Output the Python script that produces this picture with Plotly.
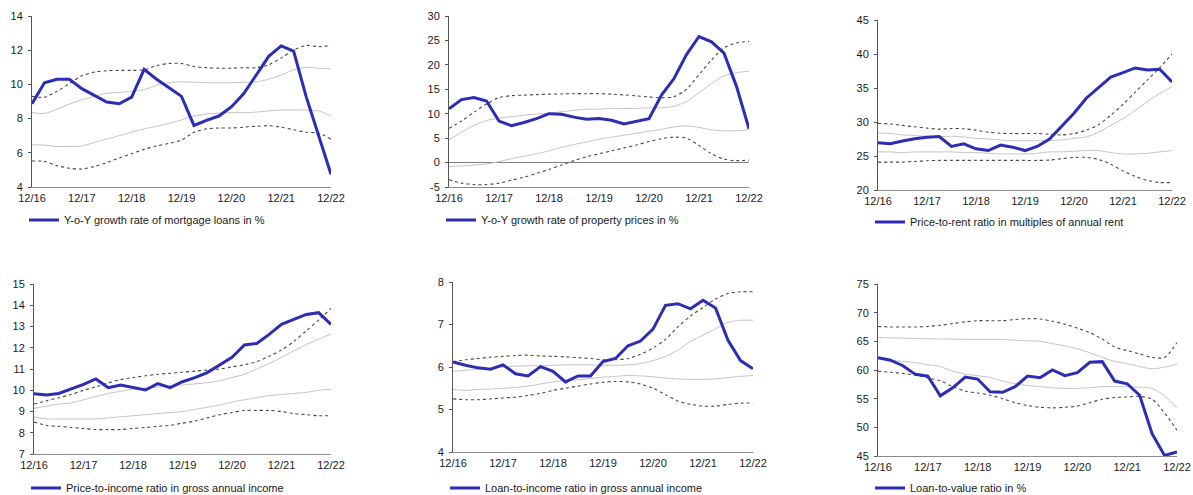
import plotly.graph_objects as go

# Quarterly observations, Dec 2016 .. Dec 2022 (25 quarters)
quarters = list(range(25))
tick_pos = [0, 4, 8, 12, 16, 20, 24]
tick_text = ["12/16", "12/17", "12/18", "12/19", "12/20", "12/21", "12/22"]

# --- Y-o-Y growth rate of mortgage loans in % ---
mort_ticks = [4, 6, 8, 10, 12, 14]
mort_val = [8.87, 10.1, 10.3, 10.3, 9.75, 9.36, 8.97, 8.87, 9.26, 10.88, 10.3, 9.8,
            9.3, 7.6, 7.9, 8.15, 8.68, 9.46, 10.53, 11.64, 12.25, 11.95, 9.3, 7.0, 4.75]
mort_hi = [9.3, 9.25, 9.6, 10.05, 10.5, 10.72, 10.8, 10.82, 10.82, 10.85, 11.1, 11.22,
           11.22, 11.05, 10.98, 10.95, 10.95, 10.97, 10.98, 11.15, 11.55, 12.0, 12.28, 12.2, 12.28]
mort_hi2 = [8.35, 8.3, 8.55, 8.85, 9.1, 9.3, 9.48, 9.53, 9.6, 9.7, 9.95, 10.1,
            10.15, 10.13, 10.1, 10.1, 10.1, 10.12, 10.15, 10.3, 10.55, 10.85, 11.0, 10.95, 10.9]
mort_lo2 = [6.47, 6.45, 6.37, 6.37, 6.4, 6.6, 6.8, 7.0, 7.2, 7.4, 7.55, 7.72,
            7.92, 8.15, 8.27, 8.32, 8.35, 8.35, 8.38, 8.45, 8.5, 8.5, 8.5, 8.45, 8.15]
mort_lo = [5.52, 5.5, 5.25, 5.1, 5.05, 5.2, 5.42, 5.7, 5.95, 6.2, 6.4, 6.55,
           6.75, 7.2, 7.4, 7.45, 7.45, 7.5, 7.55, 7.58, 7.5, 7.35, 7.2, 7.15, 6.8]

# --- Y-o-Y growth rate of property prices in % ---
prop_ticks = [-5, 0, 5, 10, 15, 20, 25, 30]
prop_val = [11.0, 12.9, 13.3, 12.6, 8.5, 7.55, 8.2, 9.0, 10.0, 9.9, 9.3, 8.85,
            9.0, 8.65, 7.9, 8.5, 9.0, 13.8, 17.2, 22.1, 25.8, 24.7, 22.4, 15.6, 6.9]
prop_hi = [7.0, 8.5, 10.3, 12.0, 13.3, 13.7, 13.8, 13.9, 14.0, 14.05, 14.1, 14.1,
           14.1, 14.0, 13.85, 13.65, 13.45, 13.25, 13.5, 15.0, 18.0, 21.0, 23.5, 24.5, 24.8]
prop_hi2 = [4.7, 6.2, 7.6, 8.6, 9.1, 9.4, 9.7, 9.95, 10.1, 10.4, 10.7, 10.9,
            10.95, 11.1, 11.1, 11.1, 11.2, 11.2, 11.5, 12.5, 14.3, 16.2, 17.7, 18.4, 18.7]
prop_lo2 = [-0.8, -0.7, -0.5, -0.3, 0.2, 0.8, 1.3, 1.8, 2.4, 3.1, 3.7, 4.2,
            4.8, 5.2, 5.6, 6.0, 6.4, 6.8, 7.3, 7.5, 7.2, 6.7, 6.5, 6.5, 6.7]
prop_lo = [-3.5, -4.2, -4.5, -4.5, -4.2, -3.6, -3.0, -2.2, -1.4, -0.5, 0.4, 1.2,
           1.8, 2.4, 3.0, 3.6, 4.3, 4.9, 5.2, 5.0, 3.5, 1.8, 0.7, 0.4, 0.5]

# --- Price-to-rent ratio in multiples of annual rent ---
rent_ticks = [20, 25, 30, 35, 40, 45]
rent_val = [26.96, 26.8, 27.2, 27.55, 27.75, 27.85, 26.4, 26.8, 26.05, 25.8, 26.6, 26.3,
            25.8, 26.4, 27.5, 29.4, 31.3, 33.5, 35.1, 36.6, 37.25, 37.95, 37.65, 37.75, 35.9]
rent_hi = [29.8, 29.7, 29.5, 29.3, 29.1, 28.95, 29.05, 29.0, 28.8, 28.5, 28.35, 28.3,
           28.3, 28.3, 28.2, 28.1, 28.3, 28.8, 29.6, 31.0, 32.6, 34.4, 36.2, 38.0, 40.0]
rent_hi2 = [28.4, 28.3, 28.1, 28.0, 27.9, 27.85, 27.9, 27.8, 27.6, 27.5, 27.35, 27.25,
            27.25, 27.25, 27.3, 27.35, 27.6, 27.8, 28.5, 29.5, 30.5, 31.7, 33.0, 34.2, 35.2]
rent_lo2 = [25.6, 25.6, 25.5, 25.6, 25.6, 25.6, 25.6, 25.5, 25.5, 25.4, 25.3, 25.3,
            25.3, 25.4, 25.6, 25.6, 25.7, 25.8, 25.8, 25.5, 25.3, 25.3, 25.4, 25.6, 25.8]
rent_lo = [24.1, 24.1, 24.1, 24.2, 24.3, 24.35, 24.35, 24.35, 24.35, 24.35, 24.35, 24.35,
           24.35, 24.35, 24.4, 24.6, 24.8, 24.8, 24.5, 23.8, 22.8, 22.0, 21.4, 21.1, 21.1]

# --- Price-to-income ratio in gross annual income ---
pti_ticks = [7, 8, 9, 10, 11, 12, 13, 14, 15]
pti_val = [9.84, 9.78, 9.85, 10.06, 10.28, 10.53, 10.12, 10.25, 10.12, 10.01, 10.31, 10.12,
           10.4, 10.59, 10.83, 11.19, 11.55, 12.13, 12.2, 12.63, 13.1, 13.34, 13.57, 13.65, 13.1]
pti_hi = [9.35, 9.5, 9.65, 9.8, 10.0, 10.15, 10.35, 10.5, 10.6, 10.68, 10.75, 10.8,
          10.85, 10.9, 10.95, 11.0, 11.1, 11.2, 11.35, 11.6, 11.9, 12.3, 12.8, 13.3, 13.85]
pti_hi2 = [9.15, 9.25, 9.35, 9.4, 9.55, 9.7, 9.85, 9.95, 10.05, 10.1, 10.15, 10.2,
           10.25, 10.3, 10.35, 10.45, 10.6, 10.75, 11.0, 11.25, 11.55, 11.85, 12.15, 12.4, 12.65]
pti_lo2 = [8.75, 8.65, 8.65, 8.65, 8.65, 8.65, 8.7, 8.75, 8.8, 8.85, 8.9, 8.95,
           9.0, 9.1, 9.2, 9.3, 9.45, 9.55, 9.65, 9.75, 9.8, 9.85, 9.9, 10.0, 10.05]
pti_lo = [8.5, 8.35, 8.3, 8.25, 8.2, 8.15, 8.15, 8.15, 8.2, 8.25, 8.3, 8.35,
          8.45, 8.55, 8.7, 8.85, 8.95, 9.05, 9.05, 9.05, 9.0, 8.9, 8.85, 8.8, 8.8]

# --- Loan-to-income ratio in gross annual income ---
lti_ticks = [4, 5, 6, 7, 8]
lti_val = [6.12, 6.04, 5.98, 5.95, 6.05, 5.84, 5.79, 6.01, 5.9, 5.65, 5.79, 5.79,
           6.13, 6.2, 6.5, 6.61, 6.89, 7.45, 7.49, 7.37, 7.57, 7.39, 6.63, 6.15, 5.96]
lti_hi = [6.12, 6.17, 6.2, 6.23, 6.25, 6.27, 6.28, 6.26, 6.25, 6.24, 6.22, 6.2,
          6.17, 6.17, 6.2, 6.3, 6.45, 6.65, 6.95, 7.2, 7.4, 7.6, 7.73, 7.77, 7.77]
lti_hi2 = [5.9, 5.92, 5.95, 5.97, 6.0, 6.02, 6.03, 6.03, 6.04, 6.05, 6.05, 6.05,
           6.04, 6.04, 6.05, 6.08, 6.15, 6.25, 6.4, 6.6, 6.75, 6.9, 7.05, 7.1, 7.1]
lti_lo2 = [5.47, 5.45, 5.47, 5.48, 5.5, 5.52, 5.55, 5.6, 5.65, 5.68, 5.7, 5.73,
           5.76, 5.78, 5.8, 5.79, 5.77, 5.74, 5.72, 5.71, 5.71, 5.72, 5.75, 5.78, 5.8]
lti_lo = [5.25, 5.23, 5.23, 5.25, 5.27, 5.29, 5.33, 5.38, 5.45, 5.5, 5.55, 5.6,
          5.64, 5.66, 5.65, 5.6, 5.5, 5.35, 5.2, 5.12, 5.08, 5.08, 5.12, 5.15, 5.15]

# --- Loan-to-value ratio in % ---
ltv_ticks = [45, 50, 55, 60, 65, 70, 75]
ltv_val = [62.16, 61.7, 60.75, 59.24, 58.95, 55.5, 56.9, 58.77, 58.42, 56.2, 56.1, 57.08,
           58.95, 58.65, 60.0, 59.0, 59.53, 61.34, 61.46, 58.07, 57.6, 55.6, 48.9, 45.1, 45.7]
ltv_hi = [67.6, 67.5, 67.5, 67.5, 67.6, 67.8, 68.1, 68.4, 68.6, 68.6, 68.6, 68.8,
          68.95, 68.9, 68.5, 68.0, 67.3, 66.5, 65.4, 64.0, 63.4, 62.8, 62.2, 62.2, 64.8]
ltv_hi2 = [65.7, 65.6, 65.55, 65.5, 65.45, 65.4, 65.4, 65.35, 65.35, 65.35, 65.3, 65.2,
           65.1, 65.0, 64.6, 64.2, 63.7, 63.0, 62.2, 61.5, 61.1, 60.6, 60.2, 60.5, 61.0]
ltv_lo2 = [62.0, 61.7, 61.5, 61.3, 60.9, 60.6, 59.8, 59.3, 59.0, 58.7, 58.1, 57.6,
           57.3, 57.1, 56.9, 56.8, 56.8, 56.9, 57.1, 57.1, 57.1, 57.0, 56.8, 55.5, 53.4]
ltv_lo = [59.8, 59.6, 59.4, 59.1, 58.6, 58.1, 57.1, 56.3, 56.0, 55.6, 55.0, 54.3,
          53.8, 53.5, 53.4, 53.5, 53.7, 54.3, 54.9, 55.2, 55.3, 55.4, 54.9, 52.5, 49.5]

panels = [
    dict(name="Y-o-Y growth rate of mortgage loans in %", val=mort_val,
         bands=(mort_hi, mort_hi2, mort_lo2, mort_lo), yt=mort_ticks,
         box=(32, 331, 16, 187), leg=220),
    dict(name="Y-o-Y growth rate of property prices in %", val=prop_val,
         bands=(prop_hi, prop_hi2, prop_lo2, prop_lo), yt=prop_ticks,
         box=(449, 749, 16, 187), leg=220),
    dict(name="Price-to-rent ratio in multiples of annual rent", val=rent_val,
         bands=(rent_hi, rent_hi2, rent_lo2, rent_lo), yt=rent_ticks,
         box=(878, 1172, 20, 190), leg=222),
    dict(name="Price-to-income ratio in gross annual income", val=pti_val,
         bands=(pti_hi, pti_hi2, pti_lo2, pti_lo), yt=pti_ticks,
         box=(34, 331, 284, 454), leg=488),
    dict(name="Loan-to-income ratio in gross annual income", val=lti_val,
         bands=(lti_hi, lti_hi2, lti_lo2, lti_lo), yt=lti_ticks,
         box=(453, 753, 282, 452), leg=488),
    dict(name="Loan-to-value ratio in %", val=ltv_val,
         bands=(ltv_hi, ltv_hi2, ltv_lo2, ltv_lo), yt=ltv_ticks,
         box=(878, 1177, 284, 456), leg=488),
]

W, H = 1193, 495
BLUE = "#2C2CB4"
DASH = "#484848"
LIGHT = "#C4C4C4"
FONT = "Liberation Sans, Arial, sans-serif"

fig = go.Figure()
layout = dict(width=W, height=H,
              margin=dict(l=0, r=0, t=0, b=0, autoexpand=False),
              paper_bgcolor="white", plot_bgcolor="white",
              font=dict(family=FONT, size=11, color="#1a1a1a"))

for i, p in enumerate(panels, start=1):
    sfx = "" if i == 1 else str(i)
    xa, ya = "x" + sfx, "y" + sfx
    leg = "legend" + sfx
    hi, hi2, lo2, lo = p["bands"]
    for band, col, dash, wd in ((hi2, LIGHT, "solid", 1), (lo2, LIGHT, "solid", 1),
                                (hi, DASH, "3px,3px", 1.1), (lo, DASH, "3px,3px", 1.1)):
        fig.add_trace(go.Scatter(x=quarters, y=band, xaxis=xa, yaxis=ya, mode="lines",
                                 line=dict(color=col, width=wd, dash=dash, shape="spline",
                                           smoothing=0.8),
                                 showlegend=False, hoverinfo="skip"))
    fig.add_trace(go.Scatter(x=quarters, y=p["val"], xaxis=xa, yaxis=ya, mode="lines",
                             name=p["name"], line=dict(color=BLUE, width=3),
                             legend=leg, showlegend=True))

    x0, x1, y0, y1 = p["box"]
    yt = p["yt"]
    layout["xaxis" + sfx] = dict(
        domain=[x0 / W, x1 / W], anchor=ya, range=[0, 24],
        tickvals=tick_pos, ticktext=tick_text, ticks="", showgrid=False,
        zeroline=False, showline=True, linecolor="#8c8c8c", linewidth=1,
        ticklabelstandoff=1, tickfont=dict(size=11, color="#1a1a1a"))
    layout["yaxis" + sfx] = dict(
        domain=[1 - y1 / H, 1 - y0 / H], anchor=xa, range=[yt[0], yt[-1]],
        tickvals=yt, ticktext=[str(v) for v in yt],
        ticks="outside", ticklen=3, tickcolor="#555555",
        showgrid=False, showline=True, linecolor="#555555", linewidth=1,
        zeroline=(yt[0] < 0), zerolinecolor="#808080", zerolinewidth=1.3,
        ticklabelstandoff=3, tickfont=dict(size=11, color="#1a1a1a"))
    layout[leg] = dict(x=(x0 - 8) / W, y=1 - p["leg"] / H, xanchor="left",
                       yanchor="middle", bgcolor="rgba(0,0,0,0)",
                       font=dict(size=11, color="#1a1a1a"), itemwidth=30,
                       tracegroupgap=0)

fig.update_layout(**layout)
fig.write_html("out.html")
